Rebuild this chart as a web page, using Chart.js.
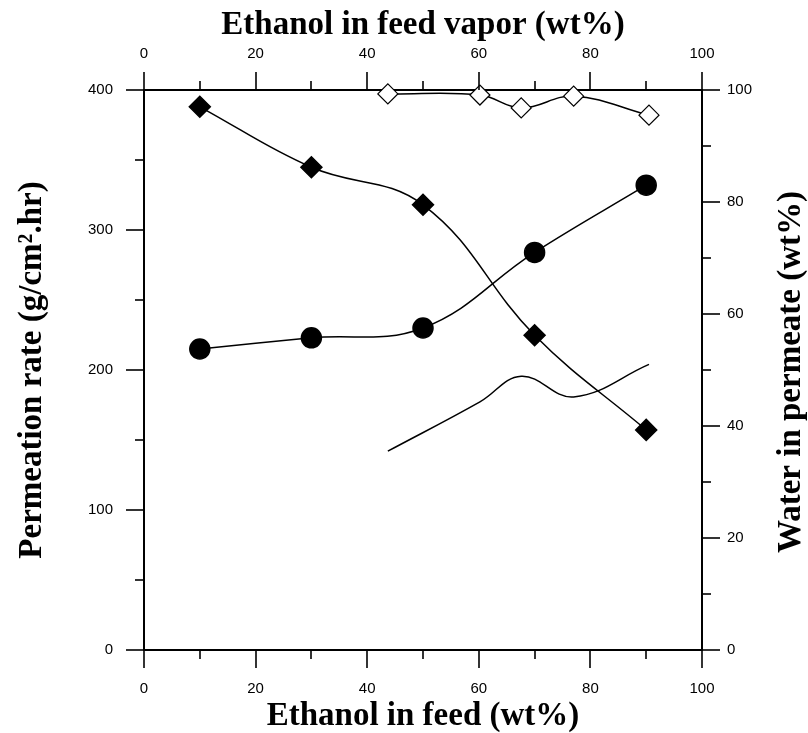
<!DOCTYPE html>
<html>
<head>
<meta charset="utf-8">
<script src="https://cdn.jsdelivr.net/npm/chart.js@4"></script>
<style>
  html, body { margin: 0; padding: 0; background: #fff; }
  canvas { display: block; }
</style>
</head>
<body>
<canvas id="chart" width="808" height="733"></canvas>
<script>
// Data
const feedEthanol = [10, 30, 50, 70, 90];            // bottom axis (wt%)
const permeationRate = [215, 223, 230, 284, 332];    // circles, left axis
const waterInPermeate = [97.0, 86.2, 79.5, 56.2, 39.3]; // filled diamonds, right axis

const feedVapor = [43.7, 60.2, 67.6, 77.0, 90.5];    // top axis (wt%)
const waterVsVapor = [99.3, 99.1, 96.8, 98.9, 95.5]; // open diamonds, right axis
const thinCurve = [35.5, 44.3, 48.9, 45.2, 51.0];    // unmarked line, right axis

const xTicks = [0, 20, 40, 60, 80, 100];
const leftTicks = [0, 100, 200, 300, 400];
const rightTicks = [0, 20, 40, 60, 80, 100];

const titleFont = { family: "'Liberation Serif', 'Times New Roman', serif", size: 33, weight: "bold", lineHeight: 1 };
const tickFont = { family: "'Liberation Sans', Arial, sans-serif", size: 15 };

const toPoints = (xs, ys) => xs.map((x, i) => ({ x: x, y: ys[i] }));

// Outward major / minor tick marks on all four axes
const tickMarks = {
  id: "tickMarks",
  afterDraw(chart) {
    const ctx = chart.ctx;
    ctx.save();
    ctx.strokeStyle = "#000";
    ctx.lineWidth = 1.6;
    const specs = [["x", 10], ["x2", 10], ["y", 50], ["y2", 10]];
    specs.forEach(([id, step]) => {
      const s = chart.scales[id];
      const n = Math.round((s.max - s.min) / step);
      for (let i = 0; i <= n; i++) {
        const p = Math.round(s.getPixelForValue(s.min + i * step));
        const len = i % 2 === 0 ? 18 : 9;
        ctx.beginPath();
        if (s.position === "bottom") { ctx.moveTo(p, s.top); ctx.lineTo(p, s.top + len); }
        if (s.position === "top") { ctx.moveTo(p, s.bottom); ctx.lineTo(p, s.bottom - len); }
        if (s.position === "left") { ctx.moveTo(s.right, p); ctx.lineTo(s.right - len, p); }
        if (s.position === "right") { ctx.moveTo(s.left, p); ctx.lineTo(s.left + len, p); }
        ctx.stroke();
      }
    });
    // right axis title reads bottom-to-top like the left one
    ctx.fillStyle = "#000";
    ctx.font = "bold 33px 'Liberation Serif', 'Times New Roman', serif";
    ctx.textAlign = "center";
    ctx.textBaseline = "middle";
    ctx.translate(791, 372);
    ctx.rotate(-Math.PI / 2);
    ctx.fillText("Water in permeate (wt%)", 0, 0);
    ctx.restore();
  }
};

const axisBase = {
  type: "linear",
  grid: { drawOnChartArea: false, drawTicks: false, color: "#000" },
  border: { display: true, color: "#000", width: 2 },
};

new Chart(document.getElementById("chart"), {
  type: "line",
  data: {
    datasets: [
      {
        label: "Permeation rate",
        data: toPoints(feedEthanol, permeationRate),
        xAxisID: "x", yAxisID: "y",
        borderColor: "#000", borderWidth: 1.5,
        pointStyle: "circle", pointRadius: 10,
        pointBackgroundColor: "#000", pointBorderColor: "#000",
        tension: 0.4, clip: false
      },
      {
        label: "Water in permeate",
        data: toPoints(feedEthanol, waterInPermeate),
        xAxisID: "x", yAxisID: "y2",
        borderColor: "#000", borderWidth: 1.5,
        pointStyle: "rectRot", pointRadius: 10.5,
        pointBackgroundColor: "#000", pointBorderColor: "#000",
        tension: 0.4, clip: false
      },
      {
        label: "Water in permeate (vapor)",
        data: toPoints(feedVapor, waterVsVapor),
        xAxisID: "x2", yAxisID: "y2",
        borderColor: "#000", borderWidth: 1.5,
        pointStyle: "rectRot", pointRadius: 10, pointBorderWidth: 1.2,
        pointBackgroundColor: "#fff", pointBorderColor: "#000",
        tension: 0.4, clip: false
      },
      {
        label: "Curve",
        data: toPoints(feedVapor, thinCurve),
        xAxisID: "x2", yAxisID: "y2",
        borderColor: "#000", borderWidth: 1.5,
        pointRadius: 0,
        tension: 0.4, clip: false
      }
    ]
  },
  options: {
    responsive: false,
    animation: false,
    layout: { padding: 0 },
    plugins: { legend: { display: false }, tooltip: { enabled: false } },
    scales: {
      x: {
        ...axisBase, position: "bottom", min: 0, max: 100,
        afterBuildTicks: s => { s.ticks = xTicks.map(v => ({ value: v })); },
        afterFit: s => { s.height = 83; },
        ticks: { color: "#000", font: tickFont, padding: 30, maxRotation: 0 },
        title: { display: true, text: "Ethanol in feed (wt%)", color: "#000", font: titleFont, padding: { top: -3, bottom: 0 } }
      },
      x2: {
        ...axisBase, position: "top", min: 0, max: 100,
        afterBuildTicks: s => { s.ticks = xTicks.map(v => ({ value: v })); },
        afterFit: s => { s.height = 90; },
        ticks: { color: "#000", font: tickFont, padding: 27, maxRotation: 0 },
        title: { display: true, text: "Ethanol in feed vapor (wt%)", color: "#000", font: titleFont, padding: { top: 9, bottom: 0 } }
      },
      y: {
        ...axisBase, position: "left", min: 0, max: 400,
        afterBuildTicks: s => { s.ticks = leftTicks.map(v => ({ value: v })); },
        afterFit: s => { s.width = 144; },
        ticks: { color: "#000", font: tickFont, padding: 31 },
        title: { display: true, text: "Permeation rate (g/cm\u00B2.hr)", color: "#000", font: titleFont, padding: { top: 16, bottom: 0 } }
      },
      y2: {
        ...axisBase, position: "right", min: 0, max: 100,
        afterBuildTicks: s => { s.ticks = rightTicks.map(v => ({ value: v })); },
        afterFit: s => { s.width = 106; },
        ticks: { color: "#000", font: tickFont, padding: 25 },
        title: { display: false }
      }
    }
  },
  plugins: [tickMarks]
});
</script>
</body>
</html>
